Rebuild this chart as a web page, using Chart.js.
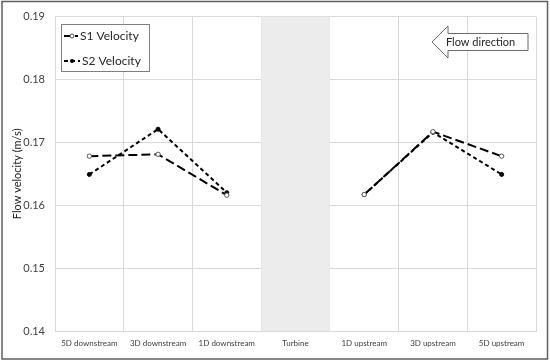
<!DOCTYPE html>
<html>
<head>
<meta charset="utf-8">
<script src="https://cdn.jsdelivr.net/npm/chart.js@4.4.0/dist/chart.umd.min.js"></script>
<style>
  html, body { margin: 0; padding: 0; background: #fff; }
  #wrap { width: 550px; height: 361px; position: relative; }
</style>
</head>
<body>
<div id="wrap"><canvas id="c" width="550" height="361"></canvas></div>
<script>
const categories = ["5D downstream", "3D downstream", "1D downstream", "Turbine", "1D upstream", "3D upstream", "5D upstream"];
const s1Velocity = [0.1678, 0.1681, 0.1616, null, 0.1617, 0.1717, 0.1678];
const s2Velocity = [0.1649, 0.1721, 0.1620, null, 0.1617, 0.1716, 0.1649];
const seriesNames = ["S1 Velocity", "S2 Velocity"];
const yTitle = "Flow velocity (m/s)";
const shadedCategory = "Turbine";
const arrowLabel = "Flow direction";

const FONT = "Lato, 'Open Sans', sans-serif";

const extras = {
  id: 'extras',
  beforeDatasetsDraw(chart) {
    const ctx = chart.ctx, x = chart.scales.x, area = chart.chartArea;
    const i = categories.indexOf(shadedCategory);
    const half = (x.getPixelForValue(1) - x.getPixelForValue(0)) / 2;
    const cx = x.getPixelForValue(i);
    ctx.save();
    ctx.fillStyle = '#ececec';
    ctx.fillRect(cx - half, area.top, half * 2, area.bottom - area.top);
    ctx.restore();
  },
  afterDraw(chart) {
    const ctx = chart.ctx;
    ctx.save();
    // outer border
    ctx.strokeStyle = '#5f5f5f';
    ctx.lineWidth = 1.5;
    ctx.strokeRect(2, 1.5, 545.5, 357.5);

    // legend box
    ctx.fillStyle = '#fff';
    ctx.fillRect(61.5, 24.5, 88, 47);
    ctx.strokeStyle = '#7f7f7f';
    ctx.lineWidth = 1;
    ctx.strokeRect(61.5, 24.5, 88, 47);
    ctx.font = '12px ' + FONT;
    ctx.fillStyle = '#262626';
    ctx.textBaseline = 'middle';
    // S1 sample
    ctx.strokeStyle = '#000';
    ctx.lineWidth = 2;
    ctx.setLineDash([8, 3]);
    ctx.beginPath(); ctx.moveTo(64, 36); ctx.lineTo(78, 36); ctx.stroke();
    ctx.setLineDash([]);
    ctx.beginPath(); ctx.arc(72, 36, 2, 0, Math.PI * 2);
    ctx.fillStyle = '#fff'; ctx.fill();
    ctx.lineWidth = 1; ctx.strokeStyle = '#595959'; ctx.stroke();
    ctx.fillStyle = '#262626';
    ctx.fillText(seriesNames[0], 80, 36);
    // S2 sample
    ctx.strokeStyle = '#000';
    ctx.lineWidth = 2;
    ctx.setLineDash([4, 3]);
    ctx.beginPath(); ctx.moveTo(64, 61); ctx.lineTo(80, 61); ctx.stroke();
    ctx.setLineDash([]);
    ctx.beginPath(); ctx.arc(72, 61, 2, 0, Math.PI * 2);
    ctx.fillStyle = '#000'; ctx.fill();
    ctx.fillStyle = '#262626';
    ctx.fillText(seriesNames[1], 82, 61);

    // flow direction arrow
    ctx.beginPath();
    ctx.moveTo(432, 42);
    ctx.lineTo(448, 26);
    ctx.lineTo(448, 33.5);
    ctx.lineTo(528, 33.5);
    ctx.lineTo(528, 50.5);
    ctx.lineTo(448, 50.5);
    ctx.lineTo(448, 58);
    ctx.closePath();
    ctx.fillStyle = '#fff';
    ctx.fill();
    ctx.strokeStyle = '#6a6a6a';
    ctx.lineWidth = 1;
    ctx.stroke();
    ctx.fillStyle = '#262626';
    ctx.font = '11px ' + FONT;
    ctx.fillText(arrowLabel, 446, 42);
    ctx.restore();
  }
};

new Chart(document.getElementById('c'), {
  type: 'line',
  data: {
    labels: categories,
    datasets: [
      {
        label: seriesNames[0], data: s1Velocity,
        borderColor: '#000', borderWidth: 2, borderDash: [9, 4],
        pointRadius: 2.2, pointBackgroundColor: '#fff', pointBorderColor: '#595959', pointBorderWidth: 1,
        spanGaps: false, tension: 0
      },
      {
        label: seriesNames[1], data: s2Velocity,
        borderColor: '#000', borderWidth: 2, borderDash: [4, 3],
        pointRadius: 2, pointBackgroundColor: '#000', pointBorderColor: '#000', pointBorderWidth: 1,
        spanGaps: false, tension: 0
      }
    ]
  },
  options: {
    responsive: false,
    animation: false,
    devicePixelRatio: 1,
    layout: { padding: { top: 15, right: 14, left: 0, bottom: 0 } },
    plugins: { legend: { display: false }, tooltip: { enabled: false } },
    scales: {
      x: {
        offset: true,
        grid: { offset: true, color: '#d9d9d9', drawTicks: false },
        border: { color: '#d9d9d9' },
        ticks: { color: '#404040', font: { family: FONT, size: 8 }, padding: 8, maxRotation: 0, autoSkip: false },
        afterFit(s) { s.height = 30; }
      },
      y: {
        min: 0.14, max: 0.19,
        grid: { color: '#d9d9d9', drawTicks: false },
        border: { display: false },
        ticks: { stepSize: 0.01, color: '#404040', font: { family: FONT, size: 11 }, padding: 10,
          callback: v => v.toFixed(2) },
        title: { display: true, text: yTitle, color: '#1a1a1a', font: { family: FONT, size: 11 }, padding: { top: 11, bottom: 0 } },
        afterFit(s) { s.width = 55; }
      }
    }
  },
  plugins: [extras]
});
</script>
</body>
</html>
